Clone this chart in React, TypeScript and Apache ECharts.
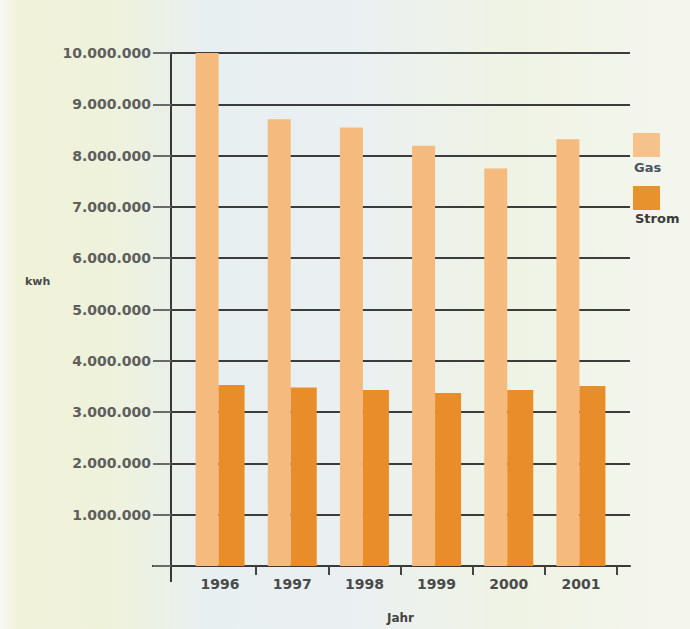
import React, { useEffect, useRef } from "react";
import * as echarts from "echarts";

const years = ["1996", "1997", "1998", "1999", "2000", "2001"];
const gas = [10000000, 8710000, 8550000, 8190000, 7750000, 8320000];
const strom = [3530000, 3480000, 3430000, 3370000, 3430000, 3510000];
const seriesNames = ["Gas", "Strom"];
const seriesColors = ["#F5BA7E", "#E88D2A"];
const yTicks = { min: 0, max: 10000000, interval: 1000000 };

const fmt = (v: number) =>
  v === 0 ? "" : String(v).replace(/\B(?=(\d{3})+(?!\d))/g, ".");

export default function App() {
  const ref = useRef<HTMLDivElement>(null);
  useEffect(() => {
    if (!ref.current) return;
    const chart = echarts.init(ref.current, undefined, { renderer: "svg" });
    const font = "DejaVu Sans";
    chart.setOption({
      animation: false,
      backgroundColor: {
        type: "linear",
        x: 0,
        y: 0,
        x2: 1,
        y2: 0,
        colorStops: [
          { offset: 0, color: "#f8f9f2" },
          { offset: 0.025, color: "#f0f2da" },
          { offset: 0.15, color: "#eff2da" },
          { offset: 0.3, color: "#e8eff1" },
          { offset: 0.5, color: "#eaf0f2" },
          { offset: 0.75, color: "#eff3e4" },
          { offset: 1, color: "#f4f6ee" },
        ],
      },
      grid: [
        { left: 171, right: 60, top: 53, bottom: 63, outerBoundsMode: "none" },
        { left: 184, right: 73, top: 53, bottom: 63, outerBoundsMode: "none" },
      ],
      xAxis: [
        {
          gridIndex: 0,
          type: "value",
          min: 0,
          max: 1,
          axisLine: { show: true, lineStyle: { color: "#3a3a3a", width: 2 } },
          axisTick: { show: false },
          axisLabel: { show: false },
          splitLine: { show: false },
        },
        {
          gridIndex: 1,
          type: "category",
          data: years,
          axisLine: { show: false },
          axisTick: {
            show: true,
            length: 9,
            interval: (i: number) => i > 0 && i < years.length,
            lineStyle: { color: "#444", width: 2 },
          },
          axisLabel: {
            color: "#4a4a4a",
            fontFamily: font,
            fontWeight: "bold",
            fontSize: 14,
            margin: 11,
          },
          name: "Jahr",
          nameLocation: "middle",
          nameGap: 46,
          nameTextStyle: {
            color: "#444",
            fontFamily: font,
            fontWeight: "bold",
            fontSize: 12,
          },
        },
      ],
      yAxis: [
        {
          gridIndex: 0,
          type: "value",
          min: yTicks.min,
          max: yTicks.max,
          interval: yTicks.interval,
          axisLine: { show: true, lineStyle: { color: "#3a3a3a", width: 2 } },
          axisTick: {
            show: true,
            length: 18,
            lineStyle: { color: "#6a6a6a", width: 2 },
          },
          axisLabel: {
            formatter: fmt,
            color: "#5e5e5e",
            fontFamily: font,
            fontWeight: "bold",
            fontSize: 14,
            margin: 20,
          },
          splitLine: { show: true, lineStyle: { color: "#3c3c3c", width: 2 } },
        },
        {
          gridIndex: 1,
          type: "value",
          min: yTicks.min,
          max: yTicks.max,
          interval: yTicks.interval,
          show: false,
        },
      ],
      series: [
        {
          name: seriesNames[0],
          type: "bar",
          xAxisIndex: 1,
          yAxisIndex: 1,
          data: gas,
          barWidth: 23,
          barGap: "0%",
          itemStyle: { color: seriesColors[0] },
        },
        {
          name: seriesNames[1],
          type: "bar",
          xAxisIndex: 1,
          yAxisIndex: 1,
          data: strom,
          barWidth: 26,
          barGap: "0%",
          itemStyle: { color: seriesColors[1] },
        },
      ],
      graphic: [
        {
          type: "line",
          shape: { x1: 171, y1: 566, x2: 171, y2: 582 },
          style: { stroke: "#3a3a3a", lineWidth: 2 },
        },
        {
          type: "line",
          shape: { x1: 152, y1: 566, x2: 171, y2: 566 },
          style: { stroke: "#3a3a3a", lineWidth: 2 },
        },
        {
          type: "text",
          x: 25,
          y: 276,
          style: {
            text: "kwh",
            fill: "#4a4a4a",
            font: `bold 11px "${font}"`,
          },
        },
        {
          type: "rect",
          shape: { x: 633, y: 133, width: 27, height: 24 },
          style: { fill: "#F6C28C" },
        },
        {
          type: "text",
          x: 634,
          y: 161,
          style: {
            text: seriesNames[0],
            fill: "#4a5460",
            font: `bold 13px "${font}"`,
          },
        },
        {
          type: "rect",
          shape: { x: 633, y: 186, width: 27, height: 24 },
          style: { fill: "#E8922E" },
        },
        {
          type: "text",
          x: 635,
          y: 212,
          style: {
            text: seriesNames[1],
            fill: "#3a3a3a",
            font: `bold 13px "${font}"`,
          },
        },
      ],
    });
    return () => chart.dispose();
  }, []);
  return (
    <div
      ref={ref}
      style={{ position: "fixed", left: 0, top: 0, width: 690, height: 629 }}
    />
  );
}
